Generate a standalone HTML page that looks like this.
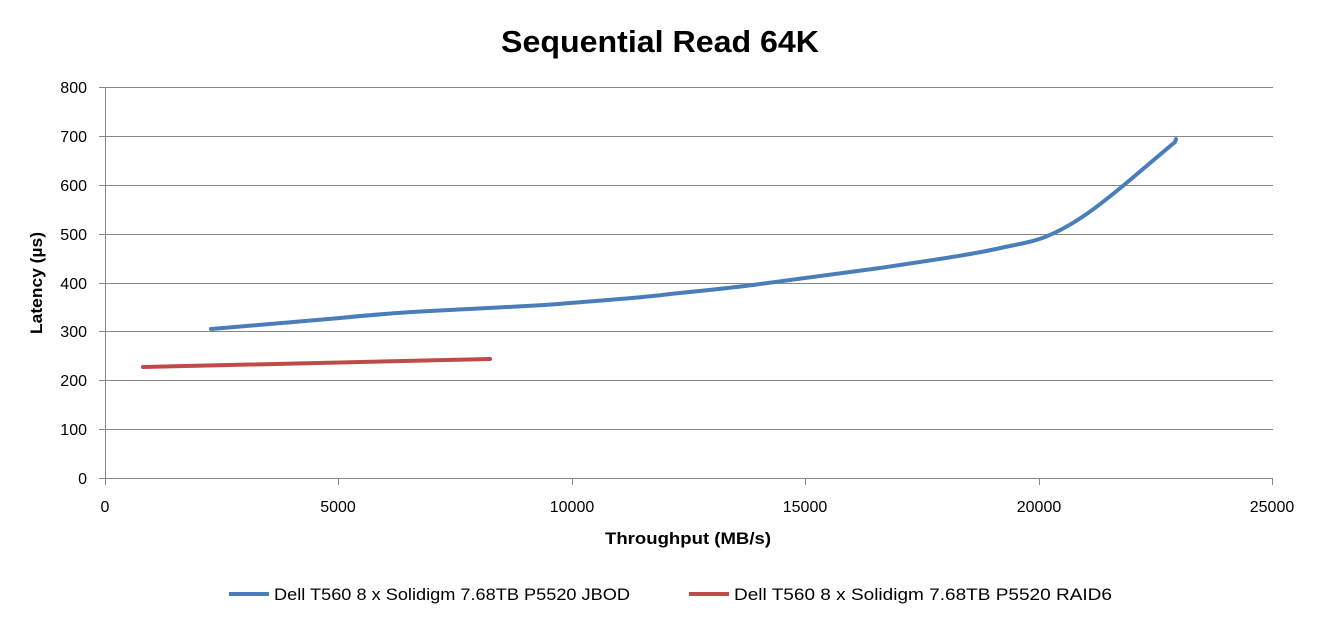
<!DOCTYPE html>
<html><head><style>body{margin:0;background:#fff}svg{display:block}</style></head><body>
<svg width="1320" height="621" xmlns="http://www.w3.org/2000/svg" font-family="Liberation Sans, sans-serif">
<rect width="1320" height="621" fill="#fff"/>
<text x="660" y="52" text-anchor="middle" font-size="31" font-weight="bold" fill="#000" textLength="318" lengthAdjust="spacingAndGlyphs">Sequential Read 64K</text>
<g stroke="#868686" stroke-width="1">
<line x1="99" y1="87.5" x2="1273" y2="87.5"/>
<line x1="99" y1="136.5" x2="1273" y2="136.5"/>
<line x1="99" y1="185.5" x2="1273" y2="185.5"/>
<line x1="99" y1="234.5" x2="1273" y2="234.5"/>
<line x1="99" y1="283.5" x2="1273" y2="283.5"/>
<line x1="99" y1="331.5" x2="1273" y2="331.5"/>
<line x1="99" y1="380.5" x2="1273" y2="380.5"/>
<line x1="99" y1="429.5" x2="1273" y2="429.5"/>
<line x1="99" y1="478.5" x2="1273" y2="478.5"/>
<line x1="105.5" y1="87" x2="105.5" y2="485"/>
<line x1="338.5" y1="478" x2="338.5" y2="485"/>
<line x1="572.5" y1="478" x2="572.5" y2="485"/>
<line x1="805.5" y1="478" x2="805.5" y2="485"/>
<line x1="1039.5" y1="478" x2="1039.5" y2="485"/>
<line x1="1272.5" y1="478" x2="1272.5" y2="485"/>
</g>
<g font-size="16" fill="#000" text-anchor="end">
<text x="87" y="93">800</text><text x="87" y="142">700</text><text x="87" y="191">600</text>
<text x="87" y="240">500</text><text x="87" y="289">400</text><text x="87" y="337">300</text>
<text x="87" y="386">200</text><text x="87" y="435">100</text><text x="87" y="484">0</text>
</g>
<g font-size="16" fill="#000" text-anchor="middle">
<text x="105" y="512">0</text><text x="338" y="512">5000</text><text x="572" y="512">10000</text>
<text x="805" y="512">15000</text><text x="1039" y="512">20000</text><text x="1272" y="512">25000</text>
</g>
<text x="688" y="544" text-anchor="middle" font-size="17" font-weight="bold" textLength="166" lengthAdjust="spacingAndGlyphs">Throughput  (MB/s)</text>
<text transform="translate(42,283) rotate(-90)" text-anchor="middle" font-size="17" font-weight="bold" textLength="102" lengthAdjust="spacingAndGlyphs">Latency (µs)</text>
<path d="M211,329 C280,323 320,320 340,318 C380,314 410,312 430,311 C500,307 540,306 570,303 C620,299 650,297 670,294 C720,289 740,287 760,284 C820,276 850,272 880,268 C940,259 975,254 1005,247 C1025,243 1035,241 1045,237 C1075,225 1100,205 1130,180 L1175,142 L1176,139" fill="none" stroke="#4a7ebb" stroke-width="4" stroke-linecap="round"/>
<path d="M143,367 L490,359" fill="none" stroke="#be4b48" stroke-width="4" stroke-linecap="round"/>
<line x1="229" y1="594" x2="269" y2="594" stroke="#4a7ebb" stroke-width="4"/>
<text x="274" y="600" font-size="17" textLength="356" lengthAdjust="spacingAndGlyphs">Dell T560 8 x Solidigm 7.68TB P5520 JBOD</text>
<line x1="689" y1="594" x2="729" y2="594" stroke="#be4b48" stroke-width="4"/>
<text x="734" y="600" font-size="17" textLength="378" lengthAdjust="spacingAndGlyphs">Dell T560 8 x Solidigm 7.68TB P5520 RAID6</text>
</svg>
</body></html>
